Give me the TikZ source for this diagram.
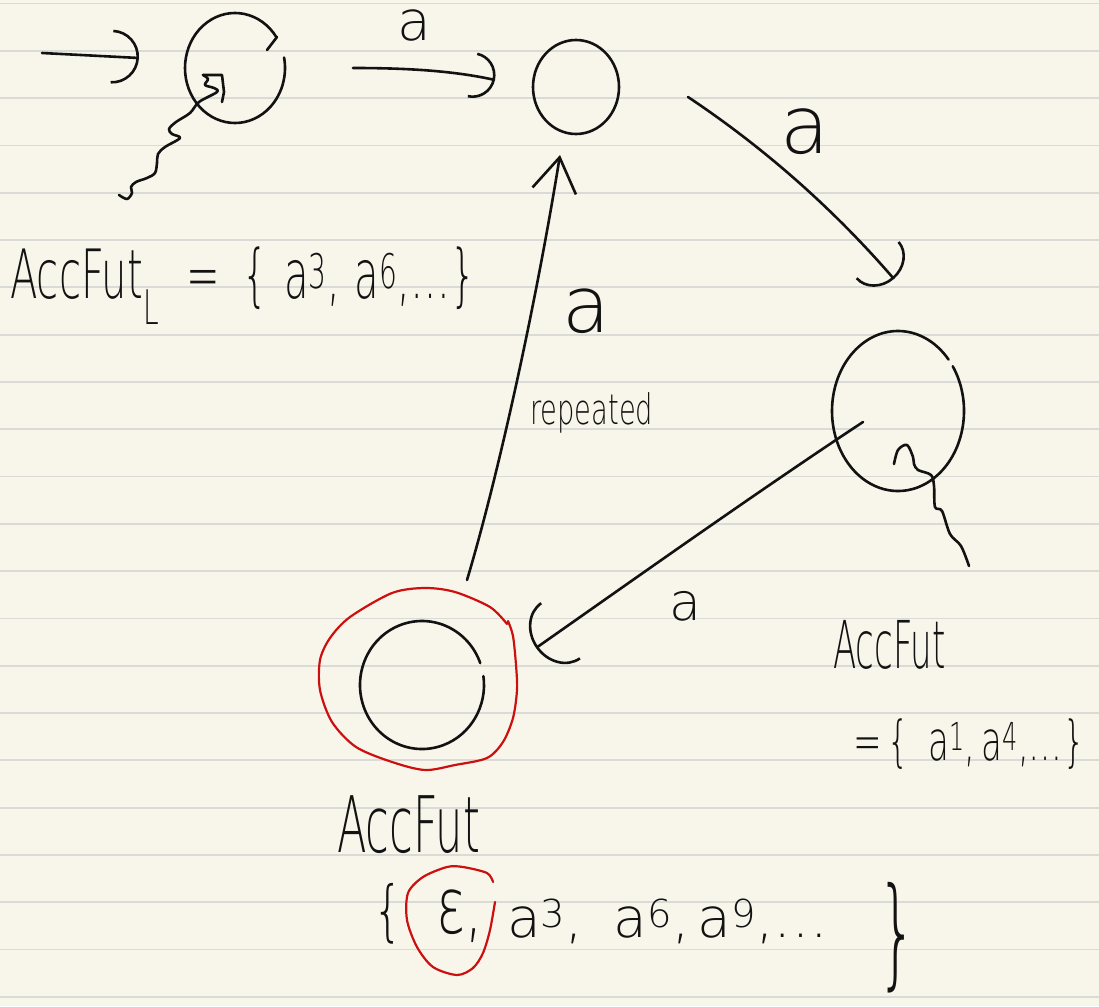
\documentclass[tikz,border=0pt]{standalone}
\usepackage{fontspec}
\IfFontExistsTF{DejaVu Sans ExtraLight}{\newfontfamily\hwfam{DejaVu Sans ExtraLight}}{\newfontfamily\hwfam{DejaVu Sans}}
\usetikzlibrary{arrows.meta,shapes.geometric,calc}
\definecolor{paper}{HTML}{F8F6EA}
\definecolor{ruleline}{HTML}{DADAD6}
\definecolor{ink}{HTML}{121212}
\definecolor{redink}{HTML}{CC1010}
\newcommand{\hwtext}[3]{\scalebox{#1}[1]{\hwfam\fontsize{#2}{#2}\selectfont #3}}
\begin{document}
\begin{tikzpicture}[x=1pt,y=-1pt,line cap=round,line join=round,
  pen/.style={draw=ink,line width=2.6pt},
  redpen/.style={draw=redink,line width=2.2pt},
  state/.style={ellipse,draw=none,inner sep=0pt,outer sep=0pt},
  hw/.style={inner sep=0pt,text=ink},
  rules/.style={draw=ruleline,line width=1.8pt}]
\fill[paper] (0,0) rectangle (1099,1006);
\useasboundingbox (0,0) rectangle (1099,1006);
\foreach \k in {0,...,21}{\draw[rules] (0,{3.5+47.3*\k}) -- (1099,{3.5+47.3*\k});}

% states
\node[state,minimum width=100pt,minimum height=110pt] (q0) at (235,68) {};
\node[state,minimum width=86pt,minimum height=94pt] (q1) at (576,87) {};
\node[state,minimum width=132pt,minimum height=160pt] (q2) at (898,411) {};
\node[state,minimum width=124pt,minimum height=128pt] (q3) at (422,685) {};

\draw[pen] (q0.center) ++(34:50pt and 55pt) arc[start angle=34,end angle=371,x radius=50pt,y radius=55pt];
\draw[pen] ($(q0.center)+(42,-31)$) -- ++(-10,13);
\draw[pen] (q1.center) ellipse[x radius=43pt,y radius=47pt];
\draw[pen] (q2.center) ++(40:66pt and 80pt) arc[start angle=40,end angle=394,x radius=66pt,y radius=80pt];
\draw[pen] (q3.center) ++(20:62pt and 64pt) arc[start angle=20,end angle=368,x radius=62pt,y radius=64pt];

% accepting ring
\draw[redpen] plot[smooth] coordinates {(508,621)(513,636)(516,665)(517,690)(513,718)(503,742)(487,758)(455,765)(425,770)(392,762)(356,747)(332,722)(320,690)(320,660)(330,638)(350,617)(392,593)(425,588)(455,592)(490,607)(507,624)};

% transitions
\coordinate (start) at (42,53);
\draw[pen,-{Arc Barb[width=54pt,length=27pt]}] (start) -- ($(q0.west)+(-46,-10)$);
\draw[pen,-{Arc Barb[width=46pt,length=23pt]}] ($(q0.east)+(68,0)$) .. controls (400,68) and (450,70) .. ($(q1.west)+(-38,-7)$);
\draw[pen,-{Arc Barb[width=58pt,length=25pt]}] ($(q1.east)+(69,10)$) .. controls (760,145) and (830,205) .. ($(q2.north)+(-4,-52)$);
\draw[pen,-{Arc Barb[width=70pt,length=30pt]}] ($(q2.center)+(-35,11)$) .. controls (760,490) and (640,575) .. ($(q3.east)+(52,-37)$);
\draw[pen,-{Straight Barb[width=44pt,length=34pt]}] ($(q3.north)+(45,-41)$) .. controls (497,480) and (535,310) .. ($(q1.south)+(-16,21)$);

% transition labels
\node[hw] (la) at (414,25) {\hwtext{1}{55}{a}};
\node[hw] (lb) at (805,132) {\hwtext{1}{80}{a}};
\node[hw] (lc) at (586,311) {\hwtext{1}{78}{a}};
\node[hw] (ld) at (685,606) {\hwtext{1}{52}{a}};
\node[hw,anchor=base west] (rep) at (530,424) {\hwtext{0.65}{42}{repeated}};

% callout squiggles
\coordinate (w0) at (119,195);
\draw[pen] plot[smooth,tension=0.55] coordinates {(119,195)(127,199)(132,193)(131,187)(136,182)(147,178)(155,173)(157,163)(158,154)(165,147)(180,138)(172,134)(169,129)(176,122)(190,113)(199,102)(217,92)(214,88)(205,85)(208,79)(203,75)};
\draw[pen] (203,75) -- (222,75) -- (224,92) -- (222,102);
\coordinate (w1) at (969,566);
\draw[pen] plot[smooth,tension=0.55] coordinates {(894,464)(898,450)(907,445)(913,457)(914,464)(918,470)(931,475)(934,486)(935,507)(942,511)(950,534)(961,546)(969,566)};

% accepting-future sets
\node[hw,anchor=base west] (accL) at (10,298) {\hwtext{0.59}{68}{AccFut\textsubscript{L}\hspace{47pt}=\hspace{38pt}\{\hspace{27pt}a\textsuperscript{3},\hspace{25pt}a\textsuperscript{6},…\}}};
\node[hw,anchor=base west] (acc2) at (833,668) {\hwtext{0.515}{66}{AccFut}};
\node[hw,anchor=base west] (set2) at (853,760) {\hwtext{0.62}{55}{=\hspace{10pt}\{\hspace{30pt}a\textsuperscript{1},\hspace{10pt}a\textsuperscript{4},…\}}};
\node[hw,anchor=base west] (acc3) at (337,852) {\hwtext{0.553}{78}{AccFut}};
\node[hw,anchor=base west] (lb3) at (373,933) {\hwtext{0.7}{66}{\{}};
\node[hw,anchor=base west] (eps) at (436,933) {\hwtext{0.7}{78}{ε,}};
\node[hw,anchor=base west] (rest3) at (507,937) {\hwtext{1}{55}{a\textsuperscript{3},\hspace{30pt}a\textsuperscript{6},\hspace{8pt}a\textsuperscript{9},…}};
\node[hw,anchor=base west] (rb3) at (877,973) {\hwtext{0.52}{120}{\}}};
\draw[redpen] plot[smooth] coordinates {(493,882)(487,873)(463,867)(447,867)(423,877)(408,893)(407,920)(417,947)(433,967)(457,975)(473,968)(483,953)(490,930)(495,902)};
\end{tikzpicture}
\end{document}
